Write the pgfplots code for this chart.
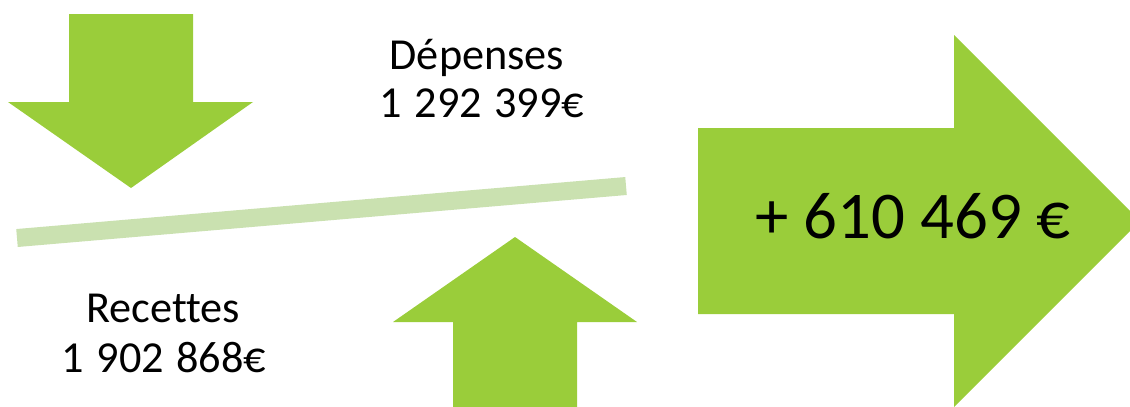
\documentclass[border=0pt]{standalone}
\usepackage{pgfplots}
\pgfplotsset{compat=1.18}
\usepackage{fontspec}
\setmainfont{Carlito}[Ligatures=NoCommon]
\definecolor{arrowgreen}{RGB}{154,205,58}
\definecolor{bandgreen}{RGB}{202,225,176}
\newcommand\gap{\hspace{0.28em}}
\begin{document}
\begin{tikzpicture}
\begin{axis}[
  scale only axis, width=11.3cm, height=4.06cm,
  xmin=0, xmax=1130, ymin=0, ymax=406, y dir=reverse,
  hide axis, clip=true,
]
% invisible frame so the picture keeps the full canvas
\addplot[draw=none] coordinates {(0,0) (1130,406)};
% down arrow (Dépenses)
\addplot[fill=arrowgreen, draw=none] coordinates {
  (69,14) (193,14) (193,102) (253,102) (131,188) (8,102) (69,102)} -- cycle;
% up arrow (Recettes)
\addplot[fill=arrowgreen, draw=none] coordinates {
  (453,410) (453,322) (393,322) (515,237) (637,322) (577,322) (577,410)} -- cycle;
% result arrow
\addplot[fill=arrowgreen, draw=none] coordinates {
  (698,128) (954,128) (954,35) (1140,221) (954,407) (954,314) (698,314)} -- cycle;
% balance bar
\addplot[draw=bandgreen, line width=1.8mm] coordinates {(17,238) (626,186)};
\node[anchor=base, font=\fontsize{12.6}{14}\selectfont] at (axis cs:477,69) {Dépenses};
\node[anchor=base, font=\fontsize{12.6}{14}\selectfont] at (axis cs:482,117) {1\gap 292\gap 399€};
\node[anchor=base, font=\fontsize{12.6}{14}\selectfont] at (axis cs:163,322) {Recettes};
\node[anchor=base, font=\fontsize{12.6}{14}\selectfont] at (axis cs:164,372) {1\gap 902\gap 868€};
\node[anchor=base, font=\fontsize{19}{20}\selectfont] at (axis cs:913,238) {+ 610 469 €};
\end{axis}
\end{tikzpicture}
\end{document}
